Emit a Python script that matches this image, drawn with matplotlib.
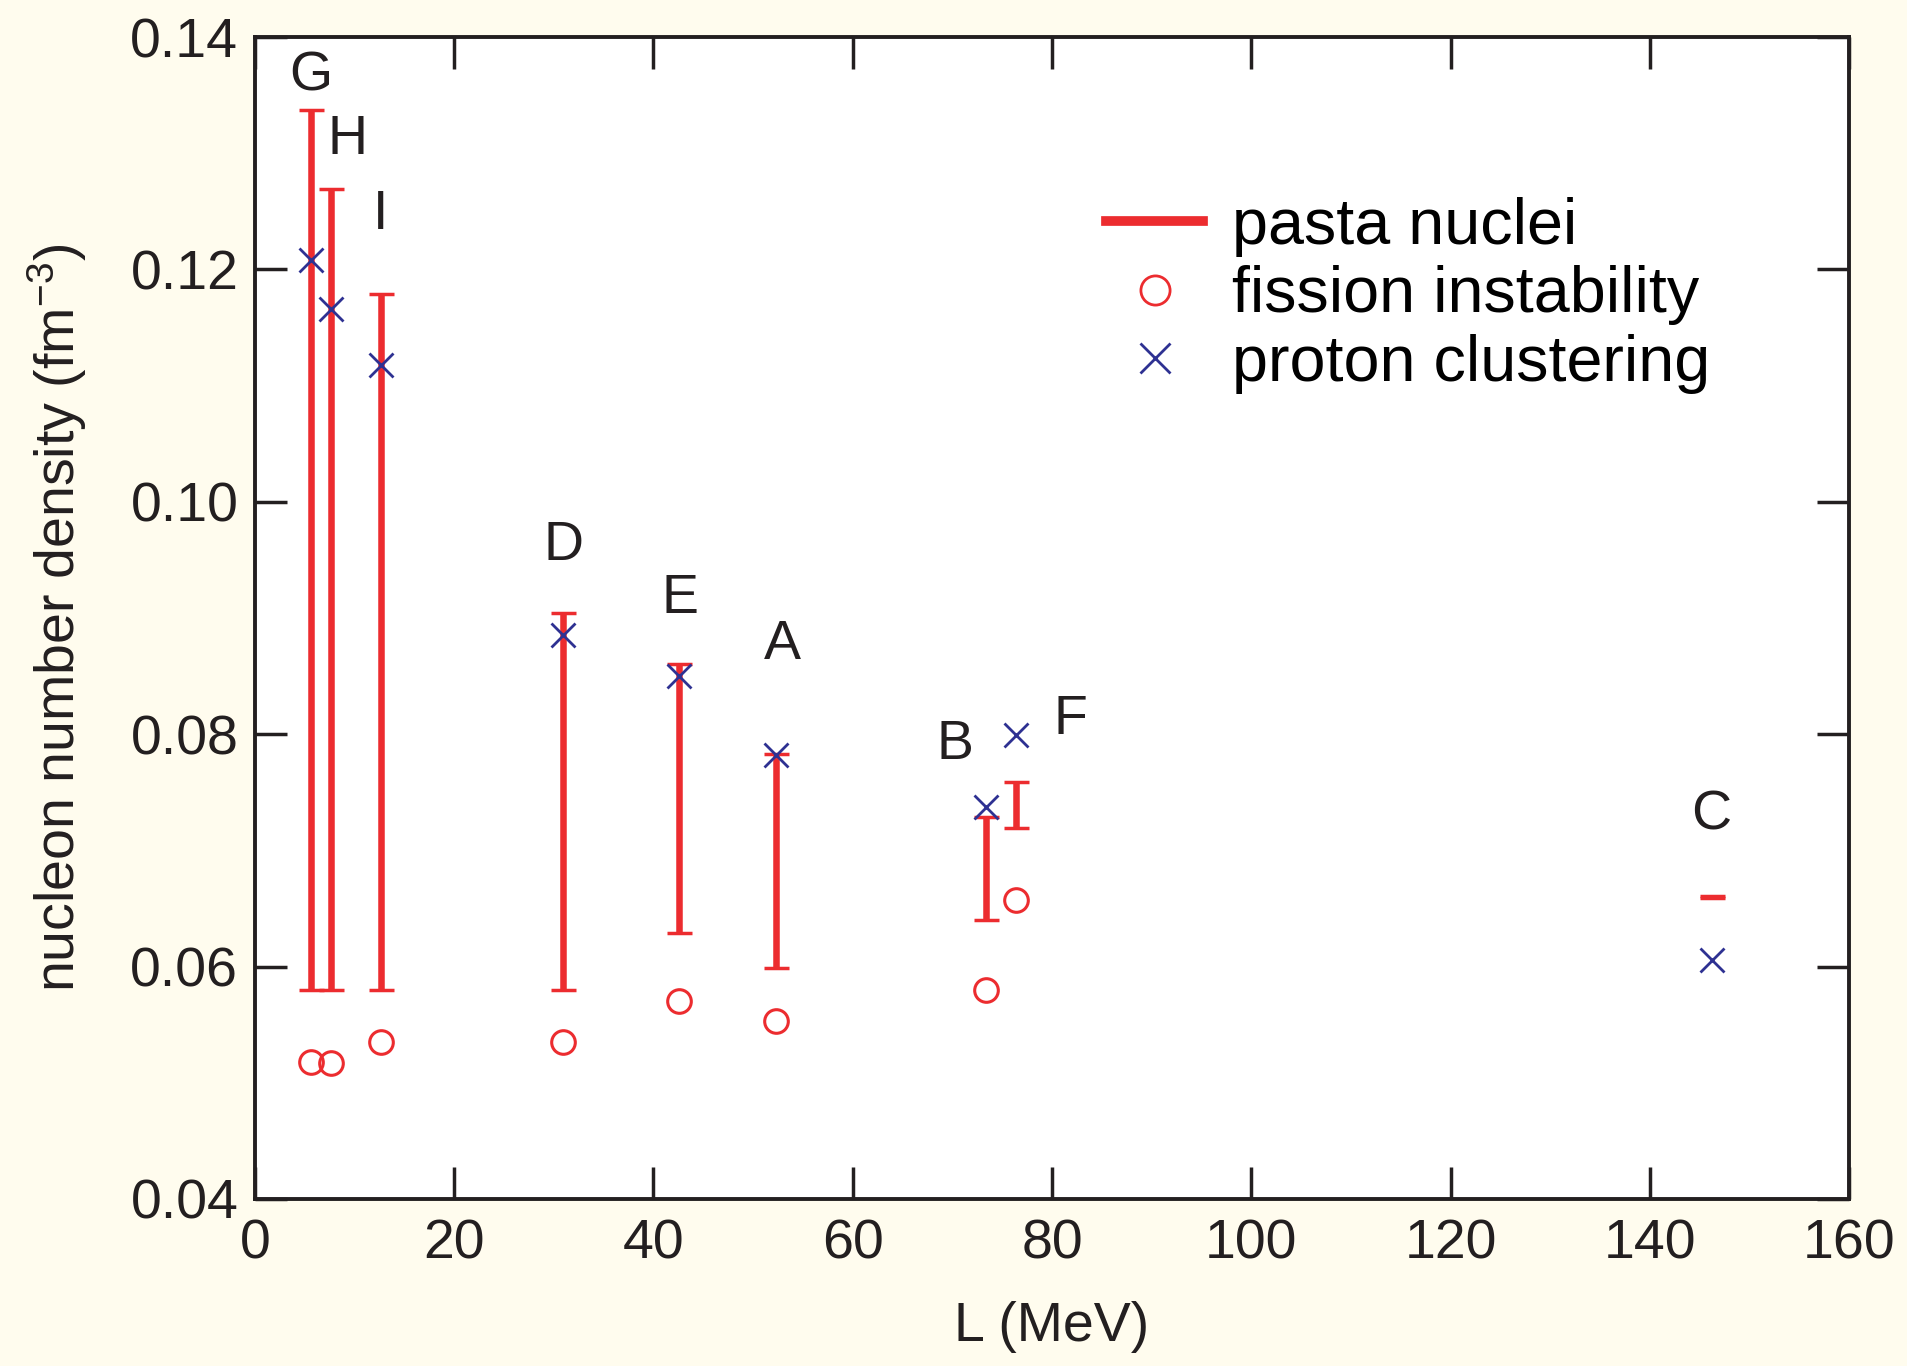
import matplotlib
matplotlib.use("Agg")
import matplotlib.pyplot as plt
from matplotlib.lines import Line2D

plt.rcParams['font.family'] = ['Liberation Sans', 'DejaVu Sans']
plt.rcParams['mathtext.default'] = 'regular'

# ---- data ----
names = ['G', 'H', 'I', 'D', 'E', 'A', 'B', 'F', 'C']
L_values = [5.6, 7.6, 12.7, 30.9, 42.6, 52.3, 73.4, 76.4, 146.2]
pasta_low = [0.058, 0.058, 0.058, 0.058, 0.0629, 0.0599, 0.0640, 0.0719, 0.0659]
pasta_high = [0.1337, 0.1269, 0.1179, 0.0904, 0.0860, 0.0783, 0.0729, 0.0759, 0.0661]
fission = [0.0518, 0.0517, 0.0535, 0.0535, 0.0570, 0.0553, 0.0580, 0.0657, None]
proton = [0.1208, 0.1166, 0.1118, 0.0885, 0.0850, 0.0782, 0.0737, 0.0799, 0.0606]
label_x = [5.6, 9.3, 12.6, 31.0, 42.7, 52.9, 70.3, 81.9, 146.2]
label_y = [0.1366, 0.1311, 0.1247, 0.0962, 0.0916, 0.0877, 0.0791, 0.0812, 0.0730]
x_ticks = [0, 20, 40, 60, 80, 100, 120, 140, 160]
y_ticks = [0.04, 0.06, 0.08, 0.10, 0.12, 0.14]

RED = '#EC2C2F'
BLUE = '#2E3192'
BG = '#FFFCEE'

fig = plt.figure(figsize=(19.07, 13.66), dpi=100, facecolor=BG)
ax = fig.add_axes([0.1337, 0.1223, 0.8359, 0.8506])
ax.set_facecolor('white')

# pasta nuclei ranges
mid = [(lo + hi) / 2 for lo, hi in zip(pasta_low, pasta_high)]
yerr = [[m - lo for m, lo in zip(mid, pasta_low)], [hi - m for m, hi in zip(mid, pasta_high)]]
ax.errorbar(L_values, mid, yerr=yerr, fmt='none', ecolor=RED, elinewidth=4.7,
            capsize=9, capthick=2.5, zorder=3)

# fission instability
fx = [x for x, f in zip(L_values, fission) if f is not None]
fy = [f for f in fission if f is not None]
ax.plot(fx, fy, linestyle='none', marker='o', markersize=17, markerfacecolor='none',
        markeredgecolor=RED, markeredgewidth=2.2, zorder=4)

# proton clustering
ax.plot(L_values, proton, linestyle='none', marker='x', markersize=17,
        markeredgecolor=BLUE, markeredgewidth=2.0, zorder=5)

for n, x, y in zip(names, label_x, label_y):
    ax.text(x, y, n, fontsize=40, ha='center', va='center', color='#231F20')

ax.set_xlim(0, 160)
ax.set_ylim(0.04, 0.14)
ax.set_xticks(x_ticks)
ax.set_yticks(y_ticks)
ax.set_xticklabels([str(t) for t in x_ticks])
ax.set_yticklabels([f'{t:.2f}' for t in y_ticks])
ax.tick_params(direction='in', length=23, width=2.5, top=True, right=True,
               labelsize=40, colors='#231F20')
ax.tick_params(axis='x', pad=14)
ax.tick_params(axis='y', pad=12)
for s in ax.spines.values():
    s.set_linewidth(2.8)
    s.set_color('#231F20')

ax.set_xlabel('L (MeV)', fontsize=40, labelpad=22, color='#231F20')
ax.set_ylabel('nucleon number density (fm$^{-3}$)', fontsize=40, labelpad=30, color='#231F20')

handles = [
    Line2D([], [], color=RED, linewidth=7),
    Line2D([], [], linestyle='none', marker='o', markersize=21, markerfacecolor='none',
           markeredgecolor=RED, markeredgewidth=2.0),
    Line2D([], [], linestyle='none', marker='x', markersize=21, markeredgecolor=BLUE,
           markeredgewidth=2.0),
]
ax.legend(handles, ['pasta nuclei', 'fission instability', 'proton clustering'],
          loc='upper left', bbox_to_anchor=(0.534, 0.8625), frameon=False, fontsize=46.5,
          handlelength=1.5, handletextpad=0.45, labelspacing=0.13, borderpad=0,
          borderaxespad=0)

fig.savefig('out.png', dpi=100, facecolor=BG)
